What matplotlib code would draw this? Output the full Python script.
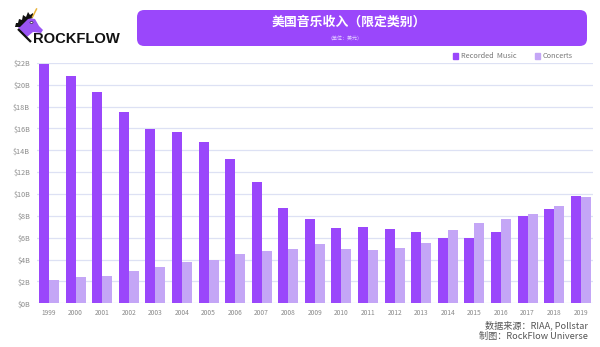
import matplotlib
matplotlib.use("Agg")
import matplotlib.pyplot as plt
from matplotlib.patches import FancyBboxPatch, Polygon, Circle, Rectangle
import numpy as np

plt.rcParams['font.family'] = ['Noto Sans CJK SC', 'DejaVu Sans']

# US music revenue by category, billions of USD
years = [str(y) for y in range(1999, 2020)]
recorded_music = [21.9, 20.8, 19.3, 17.5, 15.9, 15.7, 14.8, 13.2, 11.1, 8.7, 7.7,
                  6.9, 7.0, 6.8, 6.5, 6.0, 6.0, 6.5, 8.0, 8.6, 9.8]
concerts = [2.1, 2.4, 2.5, 3.0, 3.3, 3.8, 4.0, 4.5, 4.8, 5.0, 5.4,
            5.0, 4.9, 5.1, 5.5, 6.7, 7.3, 7.7, 8.2, 8.9, 9.7]
y_ticks = list(range(0, 23, 2))
y_tick_labels = [f"${v}B" for v in y_ticks]

title = "美国音乐收入（限定类别）"
subtitle = "（单位：美元）"
source_lines = ["数据来源：RIAA, Pollstar", "制图：RockFlow Universe"]

PURPLE = "#9a47fb"
LILAC = "#c4a6f6"
GRID = "#dde1f4"
TEXT_GRAY = "#8a8a8a"

W, H = 600, 347
fig = plt.figure(figsize=(W / 100, H / 100), dpi=100)
fig.patch.set_facecolor("white")


def fx(px):
    return px / W


def fy(py):
    return 1 - py / H


# plot area
left, right, bottom, top = 37, 593, 303.3, 62.8
ax = fig.add_axes([fx(left), fy(bottom), fx(right - left), (bottom - top) / H])
x = np.arange(len(years))
bw = 0.376
ax.bar(x - bw / 2, recorded_music, width=bw, color=PURPLE, zorder=3, label="Recorded  Music")
ax.bar(x + bw / 2, concerts, width=bw, color=LILAC, zorder=3, label="Concerts")

ax.set_xlim(-0.45, 20.46)
ax.set_ylim(0, 22)
ax.set_yticks(y_ticks)
ax.set_yticklabels(y_tick_labels)
ax.set_xticks(x)
ax.set_xticklabels(years)
for v in y_ticks:
    ax.axhline(v, color=GRID, lw=0.9, zorder=1)
for s in ax.spines.values():
    s.set_visible(False)
ax.tick_params(axis="y", length=0, pad=5, labelsize=5.2, labelcolor=TEXT_GRAY)
ax.tick_params(axis="x", length=0, pad=4, labelsize=4.8, labelcolor=TEXT_GRAY)
ax.patch.set_alpha(0)

# legend
fig.patches.append(Rectangle((fx(453), fy(58.5)), 5 / W, 5 / H, transform=fig.transFigure,
                             color=PURPLE))
fig.text(fx(461), fy(56), "Recorded  Music", fontsize=5.3, color="#777777", va="center")
fig.patches.append(Rectangle((fx(535), fy(58.5)), 5 / W, 5 / H, transform=fig.transFigure,
                             color=LILAC))
fig.text(fx(543), fy(56), "Concerts", fontsize=5.3, color="#777777", va="center")

# title banner
banner = FancyBboxPatch((fx(137), fy(46)), fx(450), (46 - 10) / H,
                        boxstyle="round,pad=0,rounding_size=0.012",
                        transform=fig.transFigure, facecolor=PURPLE, edgecolor="none",
                        mutation_aspect=W / H)
fig.patches.append(banner)
fig.text(fx(349), fy(22), title, fontsize=9.3, fontweight="bold", color="white",
         ha="center", va="center")
fig.text(fx(345), fy(39), subtitle, fontsize=3.6, color="#e6d6ff", ha="center", va="center")

# logo: unicorn head and wordmark
head = Polygon([(fx(18), fy(27)), (fx(28), fy(18)), (fx(35), fy(19)), (fx(39), fy(26)),
                (fx(43), fy(30)), (fx(41), fy(33)), (fx(33), fy(32)), (fx(27), fy(37)),
                (fx(22), fy(33))],
               closed=True, transform=fig.transFigure, facecolor="#9b55f4", edgecolor="none")
fig.patches.append(head)
mane = Polygon([(fx(15), fy(27)), (fx(16), fy(23)), (fx(18), fy(23)), (fx(19), fy(19)),
                (fx(22), fy(20)), (fx(23), fy(15)), (fx(26), fy(17)), (fx(28), fy(12)),
                (fx(30), fy(15)), (fx(33), fy(13)), (fx(33), fy(18)), (fx(28), fy(19)),
                (fx(20), fy(27))],
               closed=True, transform=fig.transFigure, facecolor="#111111", edgecolor="none")
fig.patches.append(mane)
fig.lines.append(plt.Line2D([fx(32.5), fx(36.5)], [fy(17), fy(9)], transform=fig.transFigure,
                            color="#e8b43a", lw=1.1))
fig.patches.append(Circle((fx(31.5), fy(22.5)), 1.5 / W, transform=fig.transFigure,
                          facecolor="white", edgecolor="#111111", lw=0.4))
fig.lines.append(plt.Line2D([fx(18), fx(31)], [fy(29), fy(42)], transform=fig.transFigure,
                            color="#111111", lw=1.6, solid_capstyle="butt"))
fig.text(fx(33), fy(39), "ROCKFLOW", fontsize=10.6, fontweight="bold",
         family=["Liberation Sans", "DejaVu Sans"], color="#111111", va="center", ha="left")

# source note
fig.text(fx(588), fy(325), source_lines[0], fontsize=6.6, color="#555555", ha="right", va="center")
fig.text(fx(588), fy(336.5), source_lines[1], fontsize=6.6, color="#555555", ha="right", va="center")

fig.savefig("out.png", dpi=100, facecolor="white")
